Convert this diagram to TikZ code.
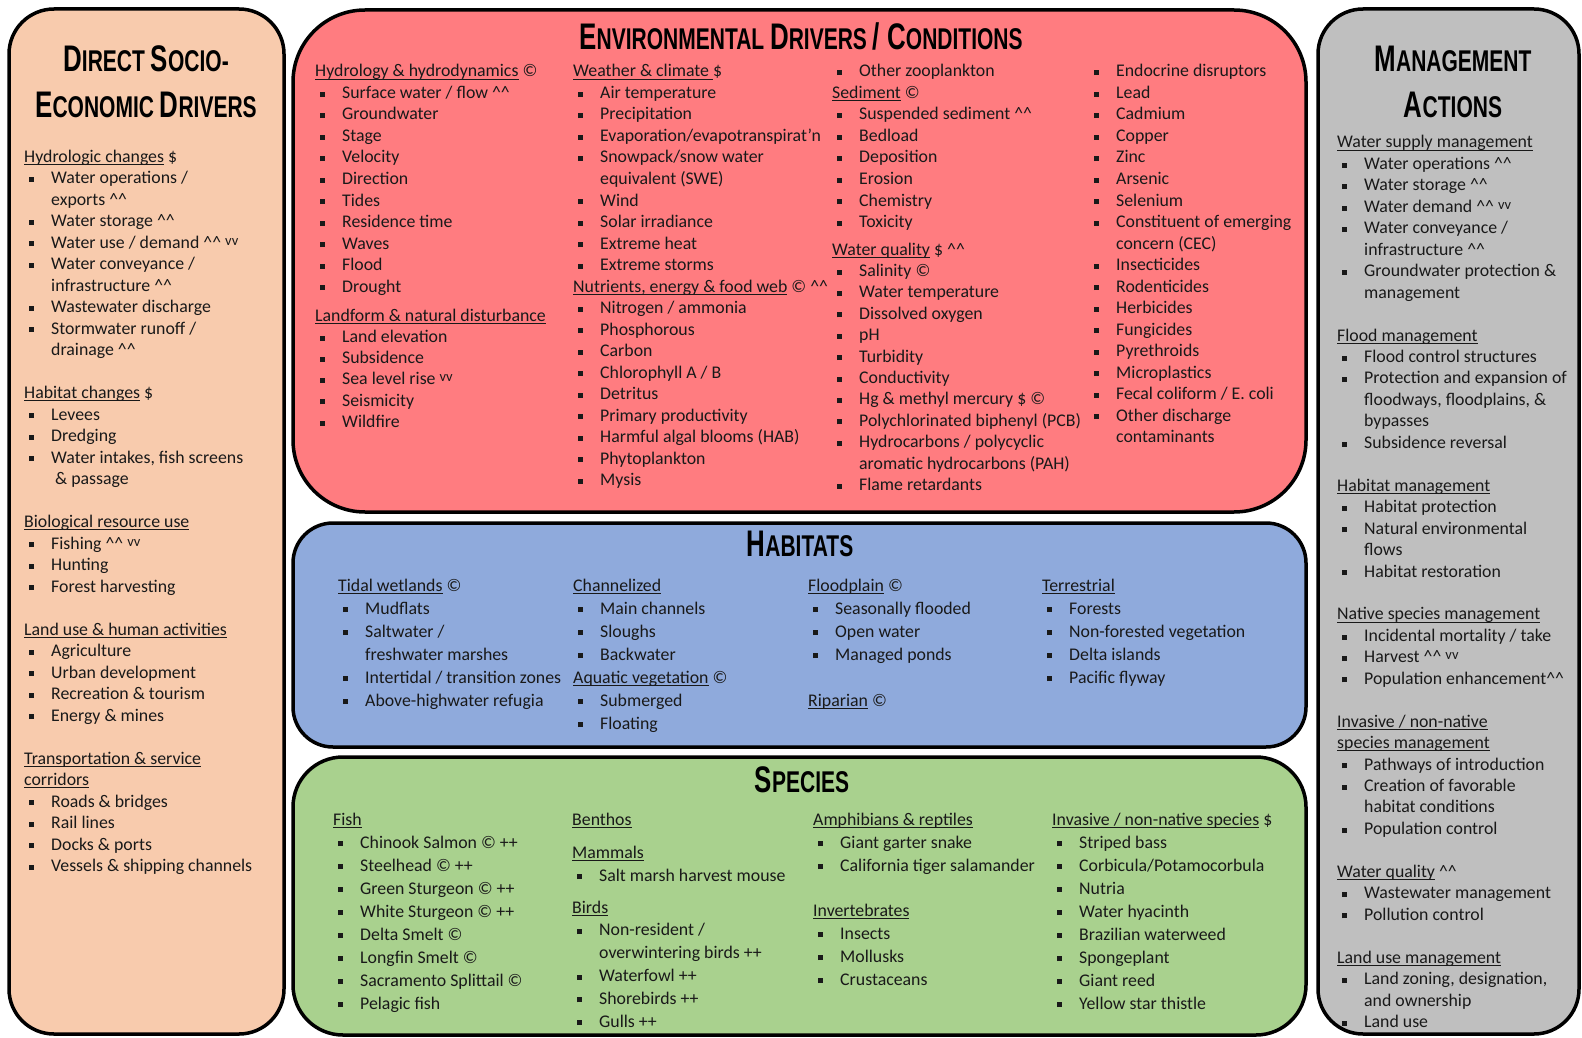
\documentclass[tikz,border=0pt]{standalone}
\usepackage{fontspec}
\setmainfont{Carlito}
\newfontfamily\ttlfont{Liberation Sans}
\usepackage{graphicx}
\definecolor{peach}{RGB}{248,203,173}
\definecolor{salmon}{RGB}{255,124,128}
\definecolor{habblue}{RGB}{143,170,220}
\definecolor{spgreen}{RGB}{169,209,142}
\definecolor{mgrey}{RGB}{191,191,191}
\definecolor{ink}{RGB}{25,25,25}
\newsavebox\ulbox
\newcommand\uln[1]{\sbox\ulbox{#1}\rlap{\rule[-2.8pt]{\wd\ulbox}{1.1pt}}\usebox\ulbox}
\newcommand\Bul[1]{\makebox[27pt][l]{\hspace{5pt}\rule[1.8pt]{5pt}{5pt}}#1}
\newcommand\Con[1]{\hspace{27pt}#1}
\newcommand\UPx{\textasciicircum\textasciicircum}
\newcommand\DNx{\raisebox{3pt}{\fontsize{14.5}{14.5}\selectfont vv}}
\newcommand\CPx{\textcopyright}
\newcommand\BG[1]{{\fontsize{37}{37}\selectfont #1}}
\newcommand\SM[1]{{\fontsize{30}{30}\selectfont #1}}
\newcommand\TTL[1]{\scalebox{0.7}[1]{\ttlfont\bfseries #1}}
\newcommand\txtcol[5]{\foreach \itx [count=\ix] in {#5}{\node[txt] (#1-\ix) at ({#2},{#3+(\ix-1)*#4}) {\itx};}}
\begin{document}
\begin{tikzpicture}[x=1pt,y=-1pt,
  box/.style={draw=black,line width=3.5pt},
  txt/.style={anchor=base west,inner sep=0pt,font=\fontsize{17.8}{21}\selectfont,text=ink},
  ttl/.style={anchor=base,inner sep=0pt,text=black}]
\useasboundingbox (0,0) rectangle (1582,1038);
% boxes
\draw[box,fill=peach,rounded corners=45pt] (9,9) rectangle (284,1034);
\draw[box,fill=salmon,rounded corners=72pt] (293,10) rectangle (1306,512);
\draw[box,fill=habblue,rounded corners=40pt] (293,523) rectangle (1306,747);
\draw[box,fill=spgreen,rounded corners=50pt] (293,757) rectangle (1306,1035);
\draw[box,fill=mgrey,rounded corners=45pt] (1318,9) rectangle (1579,1034);
% titles
\node[ttl] (tl1) at (146,72) {\TTL{\BG{D}\SM{IRECT }\BG{S}\SM{OCIO-}}};
\node[ttl] (tl2) at (146,118) {\TTL{\BG{E}\SM{CONOMIC }\BG{D}\SM{RIVERS}}};
\node[ttl] (tenv) at (801,50) {\TTL{\BG{E}\SM{NVIRONMENTAL }\BG{D}\SM{RIVERS }\BG{/ C}\SM{ONDITIONS}}};
\node[ttl] (thab) at (800,556) {\TTL{\BG{H}\SM{ABITATS}}};
\node[ttl] (tsp) at (802,792) {\TTL{\BG{S}\SM{PECIES}}};
\node[ttl] (tr1) at (1453,72) {\TTL{\BG{M}\SM{ANAGEMENT}}};
\node[ttl] (tr2) at (1453,118) {\TTL{\BG{A}\SM{CTIONS}}};
% left column
\txtcol{ls}{24}{162}{21.5}{\uln{Hydrologic changes} \$, \Bul{Water operations /}, \Con{exports \UPx}, \Bul{Water storage \UPx}, \Bul{Water use / demand \UPx\ \DNx}, \Bul{Water conveyance /}, \Con{infrastructure \UPx}, \Bul{Wastewater discharge}, \Bul{Stormwater runoff /}, \Con{drainage \UPx}, \relax, \uln{Habitat changes} \$, \Bul{Levees}, \Bul{Dredging}, \Bul{Water intakes, fish screens}, \Con{\hspace{4pt}\& passage}, \relax, \uln{Biological resource use}, \Bul{Fishing \UPx\ \DNx}, \Bul{Hunting}, \Bul{Forest harvesting}, \relax, \uln{Land use \& human activities}, \Bul{Agriculture}, \Bul{Urban development}, \Bul{Recreation \& tourism}, \Bul{Energy \& mines}, \relax, \uln{Transportation \& service}, \uln{corridors}, \Bul{Roads \& bridges}, \Bul{Rail lines}, \Bul{Docks \& ports}, \Bul{Vessels \& shipping channels}}
% environmental drivers
\txtcol{e1}{315}{77}{21.5}{\uln{Hydrology \& hydrodynamics} \CPx, \Bul{Surface water / flow \UPx}, \Bul{Groundwater}, \Bul{Stage}, \Bul{Velocity}, \Bul{Direction}, \Bul{Tides}, \Bul{Residence time}, \Bul{Waves}, \Bul{Flood}, \Bul{Drought}}
\txtcol{e1b}{315}{321}{21.3}{\uln{Landform \& natural disturbance}, \Bul{Land elevation}, \Bul{Subsidence}, \Bul{Sea level rise \DNx}, \Bul{Seismicity}, \Bul{Wildfire}}
\txtcol{e2}{573}{77}{21.5}{\uln{Weather \& climate\ }\$, \Bul{Air temperature}, \Bul{Precipitation}, \Bul{Evaporation/evapotranspirat’n}, \Bul{Snowpack/snow water}, \Con{equivalent (SWE)}, \Bul{Wind}, \Bul{Solar irradiance}, \Bul{Extreme heat}, \Bul{Extreme storms}, {\uln{Nutrients, energy \& food web} \CPx\ \UPx}, \Bul{Nitrogen / ammonia}, \Bul{Phosphorous}, \Bul{Carbon}, \Bul{Chlorophyll A / B}, \Bul{Detritus}, \Bul{Primary productivity}, \Bul{Harmful algal blooms (HAB)}, \Bul{Phytoplankton}, \Bul{Mysis}}
\txtcol{e3}{832}{77}{21.5}{\Bul{Other zooplankton}, \uln{Sediment} \CPx, \Bul{Suspended sediment \UPx}, \Bul{Bedload}, \Bul{Deposition}, \Bul{Erosion}, \Bul{Chemistry}, \Bul{Toxicity}}
\txtcol{e3b}{832}{255}{21.4}{\uln{Water quality} \$ \UPx, \Bul{Salinity \CPx}, \Bul{Water temperature}, \Bul{Dissolved oxygen}, \Bul{pH}, \Bul{Turbidity}, \Bul{Conductivity}, \Bul{Hg \& methyl mercury \$ \CPx}, \Bul{Polychlorinated biphenyl (PCB)}, \Bul{Hydrocarbons / polycyclic}, \Con{aromatic hydrocarbons (PAH)}, \Bul{Flame retardants}}
\txtcol{e4}{1089}{77}{21.5}{\Bul{Endocrine disruptors}, \Bul{Lead}, \Bul{Cadmium}, \Bul{Copper}, \Bul{Zinc}, \Bul{Arsenic}, \Bul{Selenium}, \Bul{Constituent of emerging}, \Con{concern (CEC)}, \Bul{Insecticides}, \Bul{Rodenticides}, \Bul{Herbicides}, \Bul{Fungicides}, \Bul{Pyrethroids}, \Bul{Microplastics}, \Bul{Fecal coliform / E. coli}, \Bul{Other discharge}, \Con{contaminants}}
% habitats
\txtcol{h1}{338}{591}{23}{\uln{Tidal wetlands} \CPx, \Bul{Mudflats}, \Bul{Saltwater /}, \Con{freshwater marshes}, \Bul{Intertidal / transition zones}, \Bul{Above-highwater refugia}}
\txtcol{h2}{573}{591}{23}{\uln{Channelized}, \Bul{Main channels}, \Bul{Sloughs}, \Bul{Backwater}, \uln{Aquatic vegetation} \CPx, \Bul{Submerged}, \Bul{Floating}}
\txtcol{h3}{808}{591}{23}{\uln{Floodplain} \CPx, \Bul{Seasonally flooded}, \Bul{Open water}, \Bul{Managed ponds}, \relax, \uln{Riparian} \CPx}
\txtcol{h4}{1042}{591}{23}{\uln{Terrestrial}, \Bul{Forests}, \Bul{Non-forested vegetation}, \Bul{Delta islands}, \Bul{Pacific flyway}}
% species
\txtcol{s1}{333}{825}{23}{\uln{Fish}, \Bul{Chinook Salmon \CPx\ ++}, \Bul{Steelhead \CPx\ ++}, \Bul{Green Sturgeon \CPx\ ++}, \Bul{White Sturgeon \CPx\ ++}, \Bul{Delta Smelt \CPx}, \Bul{Longfin Smelt \CPx}, \Bul{Sacramento Splittail \CPx}, \Bul{Pelagic fish}}
\txtcol{s2}{572}{825}{23}{\uln{Benthos}}
\txtcol{s2b}{572}{858}{23}{\uln{Mammals}, \Bul{Salt marsh harvest mouse}}
\txtcol{s2c}{572}{913}{22.8}{\uln{Birds}, \Bul{Non-resident /}, \Con{overwintering birds ++}, \Bul{Waterfowl ++}, \Bul{Shorebirds ++}, \Bul{Gulls ++}}
\txtcol{s3}{813}{825}{23}{\uln{Amphibians \& reptiles}, \Bul{Giant garter snake}, \Bul{California tiger salamander}}
\txtcol{s3b}{813}{916}{23}{\uln{Invertebrates}, \Bul{Insects}, \Bul{Mollusks}, \Bul{Crustaceans}}
\txtcol{s4}{1052}{825}{23}{\uln{Invasive / non-native species} \$, \Bul{Striped bass}, \Bul{Corbicula/Potamocorbula}, \Bul{Nutria}, \Bul{Water hyacinth}, \Bul{Brazilian waterweed}, \Bul{Spongeplant}, \Bul{Giant reed}, \Bul{Yellow star thistle}}
% management actions
\txtcol{m}{1337}{148}{21.45}{\uln{Water supply management}, \Bul{Water operations \UPx}, \Bul{Water storage \UPx}, \Bul{Water demand \UPx\ \DNx}, \Bul{Water conveyance /}, \Con{infrastructure \UPx}, \Bul{Groundwater protection \&}, \Con{management}, \relax, \uln{Flood management}, \Bul{Flood control structures}, \Bul{Protection and expansion of}, \Con{floodways, floodplains, \&}, \Con{bypasses}, \Bul{Subsidence reversal}, \relax, \uln{Habitat management}, \Bul{Habitat protection}, \Bul{Natural environmental}, \Con{flows}, \Bul{Habitat restoration}, \relax, \uln{Native species management}, \Bul{Incidental mortality / take}, \Bul{Harvest \UPx\ \DNx}, \Bul{Population enhancement\UPx}, \relax, \uln{Invasive / non-native}, \uln{species management}, \Bul{Pathways of introduction}, \Bul{Creation of favorable}, \Con{habitat conditions}, \Bul{Population control}, \relax, \uln{Water quality} \UPx, \Bul{Wastewater management}, \Bul{Pollution control}, \relax, \uln{Land use management}, \Bul{Land zoning, designation,}, \Con{and ownership}, \Bul{Land use}}
\end{tikzpicture}
\end{document}
